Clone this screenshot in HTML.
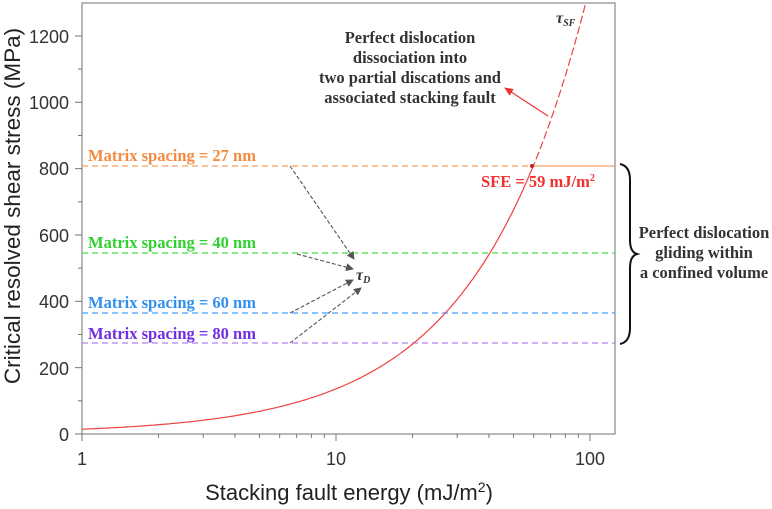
<!DOCTYPE html>
<html><head><meta charset="utf-8"><style>
html,body{margin:0;padding:0;background:#fff;width:772px;height:509px;overflow:hidden}
.b text{font-family:"Liberation Serif",serif;font-weight:bold}
text.tk{font-family:"Liberation Sans",sans-serif;font-weight:normal;font-size:18px;fill:#333}
</style></head><body>
<svg id="s" width="772" height="509" viewBox="0 0 772 509" xmlns="http://www.w3.org/2000/svg">
<defs>
<marker id="ag" markerWidth="8" markerHeight="8" refX="7" refY="4" orient="auto" markerUnits="userSpaceOnUse"><path d="M0,0 L8,4 L0,8 z" fill="#555"/></marker>
<marker id="ar" markerWidth="9" markerHeight="8" refX="8" refY="4" orient="auto" markerUnits="userSpaceOnUse"><path d="M0,0 L9,4 L0,8 z" fill="#f03030"/></marker>
</defs>
<rect x="82" y="3" width="533" height="431" fill="none" stroke="#888" stroke-width="1.2"/>
<g id="ticks" stroke="#777" stroke-width="1"></g>
<text class="tk" x="69" y="441" text-anchor="end">0</text>
<text class="tk" x="69" y="375" text-anchor="end">200</text>
<text class="tk" x="69" y="308" text-anchor="end">400</text>
<text class="tk" x="69" y="242" text-anchor="end">600</text>
<text class="tk" x="69" y="175" text-anchor="end">800</text>
<text class="tk" x="69" y="109" text-anchor="end">1000</text>
<text class="tk" x="69" y="43" text-anchor="end">1200</text>
<text class="tk" x="82" y="465" text-anchor="middle">1</text>
<text class="tk" x="336" y="465" text-anchor="middle">10</text>
<text class="tk" x="590" y="465" text-anchor="middle">100</text>
<text x="349" y="500" text-anchor="middle" style="font-family:'Liberation Sans',sans-serif;font-size:22px" fill="#222">Stacking fault energy (mJ/m<tspan dy="-8" font-size="14">2</tspan><tspan dy="8">)</tspan></text>
<text transform="translate(20,206) rotate(-90)" text-anchor="middle" style="font-family:'Liberation Sans',sans-serif;font-size:22.5px" fill="#222">Critical resolved shear stress (MPa)</text>

<line x1="82" y1="166" x2="530" y2="166" stroke="#f5a060" stroke-width="1.2" stroke-dasharray="6,4"/>
<line x1="530" y1="166" x2="615" y2="166" stroke="#f5a060" stroke-width="1.2"/>
<line x1="82" y1="253" x2="615" y2="253" stroke="#40e040" stroke-width="1.3" stroke-dasharray="6,4"/>
<line x1="82" y1="313" x2="615" y2="313" stroke="#60b0ff" stroke-width="1.6" stroke-dasharray="6,4"/>
<line x1="82" y1="343" x2="615" y2="343" stroke="#b080f0" stroke-width="1.3" stroke-dasharray="6,4"/>

<path id="c1" fill="none" stroke="#f04040" stroke-width="1.2"/>
<path id="c2" fill="none" stroke="#f04040" stroke-width="1.2" stroke-dasharray="8,3"/>
<circle cx="532" cy="166" r="2" fill="#c02020"/>

<g class="b">
<g font-size="16.5">
<text x="88" y="161" fill="#f58a40">Matrix spacing = 27 nm</text>
<text x="88" y="248" fill="#30d030">Matrix spacing = 40 nm</text>
<text x="88" y="308" fill="#3090f0">Matrix spacing = 60 nm</text>
<text x="88" y="339" fill="#7030e0">Matrix spacing = 80 nm</text>
<text x="481" y="187" fill="#f03030">SFE = 59 mJ/m<tspan dy="-6" font-size="10">2</tspan></text>
</g>
<text x="356" y="280" font-size="16" font-style="italic" fill="#333">τ<tspan font-size="10" dy="3">D</tspan></text>
<text x="556" y="23" font-size="16" font-style="italic" fill="#333">τ<tspan font-size="10" dy="3">SF</tspan></text>
<g font-size="16.5" fill="#333" text-anchor="middle">
<text x="410" y="43">Perfect dislocation</text>
<text x="410" y="63">dissociation into</text>
<text x="410" y="83">two partial discations and</text>
<text x="410" y="103">associated stacking fault</text>
<text x="704" y="238">Perfect dislocation</text>
<text x="704" y="258">gliding within</text>
<text x="704" y="278">a confined volume</text>
</g>
</g>
<g stroke="#555" stroke-width="1.1" stroke-dasharray="4,2" fill="none">
<line x1="290" y1="166" x2="354" y2="259" marker-end="url(#ag)"/>
<line x1="297" y1="254" x2="353" y2="269" marker-end="url(#ag)"/>
<line x1="290" y1="313" x2="353" y2="280" marker-end="url(#ag)"/>
<line x1="290" y1="343" x2="361" y2="288" marker-end="url(#ag)"/>
</g>
<line x1="548" y1="116" x2="505" y2="88" stroke="#f03030" stroke-width="1.2" marker-end="url(#ar)"/>
<path d="M620,164 Q630,166 630,180 L630,240 Q630,252 637,254 Q630,256 630,268 L630,328 Q630,342 620,344" fill="none" stroke="#111" stroke-width="2"/>
</svg>
<script>
var X=function(s){return 82+254*Math.log10(s)},Y=function(t){return 434-0.3317*t};
var f=function(s){return 13.5*s+1};
var a="",b="";
for(var i=0;i<=200;i++){var s=Math.pow(10,Math.log10(59)*i/200);a+=(i?"L":"M")+X(s).toFixed(1)+","+Y(f(s)).toFixed(1);}
for(var i=0;i<=100;i++){var s=59+i*0.5;var y=Y(f(s));if(y<3){s=((434-3)/0.3317-1)/13.5;b+="L"+X(s).toFixed(1)+",3";break;}b+=(i?"L":"M")+X(s).toFixed(1)+","+y.toFixed(1);}
document.getElementById("c1").setAttribute("d",a);
document.getElementById("c2").setAttribute("d",b);
var g=document.getElementById("ticks"),h="";
for(var t=0;t<=1300;t+=100){var y=Y(t);if(y<3)break;h+='<line x1="'+(t%200?78:75)+'" y1="'+y+'" x2="82" y2="'+y+'"/>';}
for(var d=0;d<3;d++)for(var k=1;k<10;k++){var x=X(k*Math.pow(10,d));if(x>615)break;h+='<line x1="'+x+'" y1="434" x2="'+x+'" y2="'+(k==1?441:438)+'"/>';}
g.innerHTML=h;
</script>
</body></html>
